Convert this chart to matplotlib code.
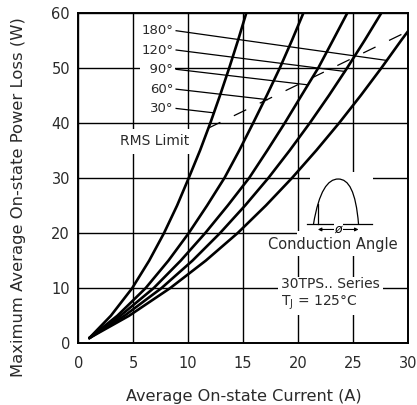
import numpy as np
import matplotlib
matplotlib.use("Agg")
import matplotlib.pyplot as plt
from matplotlib.patches import Rectangle, PathPatch
from matplotlib.path import Path

# ---- data ----
power_levels = [0.95, 5, 10, 15, 20, 25, 30, 35, 40, 45, 50, 55, 60]
cur_30 = [1.0, 2.96, 4.9, 6.45, 7.8, 8.99, 10.05, 11.08, 12.02, 12.9, 13.74, 14.54, 15.3]
cur_60 = [1.0, 3.55, 6.12, 8.2, 10.05, 11.72, 13.3, 14.65, 15.92, 17.16, 18.35, 19.45, 20.5]
cur_90 = [1.0, 3.83, 6.85, 9.32, 11.55, 13.6, 15.55, 17.2, 18.8, 20.32, 21.85, 23.18, 24.5]
cur_120 = [1.0, 4.2, 7.56, 10.39, 12.9, 15.18, 17.3, 19.24, 21.08, 22.82, 24.48, 26.07, 27.6]
power_180 = [0.95, 5, 10, 15, 20, 25, 30, 35, 40, 45, 50, 55, 56.6]
cur_180 = [1.0, 4.62, 8.35, 11.6, 14.5, 17.07, 19.45, 21.66, 23.75, 25.72, 27.6, 29.4, 30.0]

rms_limit_x = [11.8, 30.0]
rms_limit_y = [39.0, 56.6]

angle_labels = ["180°", "120°", "  90°", "60°", "30°"]
label_y = [56.7, 53.2, 49.7, 46.1, 42.6]
label_end_x = [28.1, 24.3, 20.8, 17.2, 12.35]
label_end_y = [51.3, 49.3, 46.9, 44.2, 41.8]

x_ticks = [0, 5, 10, 15, 20, 25, 30]
y_ticks = [0, 10, 20, 30, 40, 50, 60]

plt.rcParams['font.family'] = ['DejaVu Sans']
fig = plt.figure(figsize=(4.17, 4.05), dpi=100)
ax = fig.add_axes([0.1878, 0.1523, 0.7906, 0.8168])
ax.set_xlim(0, 30)
ax.set_ylim(0, 60)
ax.set_xticks(x_ticks)
ax.set_yticks(y_ticks)
ax.tick_params(length=0, labelsize=10.5, colors='#2a2a2a')
ax.tick_params(axis='x', pad=9)
ax.tick_params(axis='y', pad=6)
ax.grid(True, color='black', linewidth=1.0)
ax.set_axisbelow(True)
for s in ax.spines.values():
    s.set_linewidth(1.4)
    s.set_zorder(10)

curve_kw = dict(color='black', linewidth=1.9, solid_capstyle='round',
                solid_joinstyle='round', zorder=5)
ax.plot(cur_30, power_levels, **curve_kw)
ax.plot(cur_60, power_levels, **curve_kw)
ax.plot(cur_90, power_levels, **curve_kw)
ax.plot(cur_120, power_levels, **curve_kw)
ax.plot(cur_180, power_180, **curve_kw)

# RMS limit dashed line
ax.plot(rms_limit_x, rms_limit_y, color='black', linewidth=0.9,
        dashes=(11, 12), zorder=5)
ax.text(6.9, 36.65, "RMS Limit", ha='center', va='center', fontsize=10,
        color='#2a2a2a', zorder=6,
        bbox=dict(boxstyle='square,pad=0.4', fc='white', ec='none'))

# angle labels with leader lines
for lab, ly, ex, ey in zip(angle_labels, label_y, label_end_x, label_end_y):
    ax.plot([8.9, ex], [ly, ey], color='black', linewidth=0.9, zorder=4)
    ax.text(8.65, ly, lab, ha='right', va='center', fontsize=9.5,
            color='#2a2a2a', zorder=6,
            bbox=dict(boxstyle='square,pad=0.1', fc='white', ec='none'))

# conduction angle inset
ax.add_patch(Rectangle((19.9, 15.9), 10.1, 4.5, fc='white', ec='none', zorder=2))
ax.add_patch(Rectangle((21.1, 20.3), 5.7, 10.8, fc='white', ec='none', zorder=2))
ax.plot([20.8, 26.7], [21.6, 21.6], color='black', linewidth=0.9, zorder=6)
verts = [(21.4, 21.6), (21.9, 27.6), (22.7, 29.8), (23.65, 29.8),
         (24.6, 29.8), (25.25, 27.6), (25.5, 21.6)]
codes = [Path.MOVETO] + [Path.CURVE4] * 6
ax.add_patch(PathPatch(Path(verts, codes), fc='none', ec='black', lw=0.9, zorder=6))
ax.plot([21.8, 21.8], [21.6, 25.2], color='black', linewidth=0.9, zorder=6)
ax.annotate("", xy=(21.8, 20.65), xytext=(25.5, 20.65),
            arrowprops=dict(arrowstyle='<|-|>', lw=0.8, color='black',
                            mutation_scale=5, shrinkA=0, shrinkB=0), zorder=6)
ax.text(23.65, 20.75, "ø", ha='center', va='center', fontsize=9,
        fontstyle='italic', zorder=7,
        bbox=dict(boxstyle='square,pad=0.05', fc='white', ec='none'))
ax.text(23.2, 17.85, "Conduction Angle", ha='center', va='center', fontsize=10.5,
        color='#2a2a2a', zorder=6,
        bbox=dict(boxstyle='square,pad=0.15', fc='white', ec='none'))

ax.text(18.45, 8.9, "30TPS.. Series\nT$_\\mathregular{J}$ = 125°C", ha='left',
        va='center', fontsize=10, color='#2a2a2a', linespacing=1.25, zorder=6,
        bbox=dict(boxstyle='square,pad=0.2', fc='white', ec='none'))

fig.text(244 / 417, 1 - 396 / 405, "Average On-state Current (A)", ha='center',
         va='center', fontsize=11.6, color='#2a2a2a')
fig.text(18.3 / 417, 1 - 197 / 405, "Maximum Average On-state Power Loss (W)",
         ha='center', va='center', rotation=90, fontsize=11.8, color='#2a2a2a')

fig.savefig("out.png", dpi=100)
